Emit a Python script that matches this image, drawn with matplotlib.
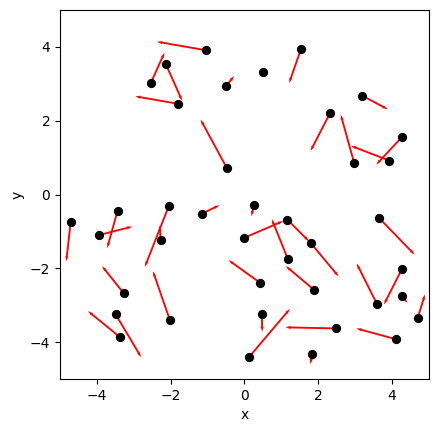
import numpy as np
import matplotlib
matplotlib.use("Agg")
import matplotlib.pyplot as plt

# point positions
x = [-1.05, -2.13, -1.81, -2.54, -0.50, -0.48, 0.50, 1.53, 3.19, 2.32,
     2.97, 3.92, 4.27, -4.71, -3.95, -3.44, -2.05, -2.27, -1.16, -3.27,
     -3.49, -3.37, -2.02, 0.42, 0.25, 0.00, 1.16, 1.79, 1.18, 1.88,
     3.64, 4.27, 3.59, 4.27, 4.69, 0.47, 0.12, 2.48, 4.10, 1.82]
y = [3.91, 3.53, 2.46, 3.02, 2.94, 0.72, 3.32, 3.94, 2.68, 2.21,
     0.86, 0.92, 1.56, -0.74, -1.10, -0.44, -0.31, -1.22, -0.52, -2.68,
     -3.25, -3.87, -3.41, -2.39, -0.28, -1.17, -0.68, -1.31, -1.76, -2.58,
     -0.63, -2.01, -2.97, -2.76, -3.36, -3.23, -4.41, -3.63, -3.92, -4.33]
# arrow components
u = [-1.32, 0.44, -1.15, 0.37, 0.22, -0.71, 0.14, -0.32, 0.69, -0.53,
     -0.36, -1.04, -0.70, -0.12, 0.91, -0.28, -0.65, -0.03, 0.48, -0.59,
     0.69, -0.87, -0.46, -0.85, -0.06, 1.05, 0.59, 0.76, -0.44, -0.76,
     0.97, -0.49, -0.55, 0.15, 0.20, 0.01, 1.11, -1.37, -1.07, -0.03]
v = [0.23, -0.99, 0.20, 0.82, 0.27, 1.31, -0.02, -0.92, -0.37, -1.03,
     1.30, 0.40, -0.75, -1.07, 0.23, -1.01, -1.65, 0.38, 0.23, 0.74,
     -1.16, 0.71, 1.33, 0.61, -0.31, 0.45, -0.59, -0.91, 1.09, 0.64,
     -1.00, -0.97, 1.10, -0.18, 0.65, -0.49, 1.31, 0.03, 0.29, -0.27]

fig = plt.figure(figsize=(4.39, 4.32), dpi=100)
ax = fig.add_axes([60/439, 53/432, 369/439, 369/432])

ax.quiver(x, y, u, v, angles='xy', scale_units='xy', scale=1, color='red',
          width=0.005, headwidth=1.8, headlength=3, headaxislength=2.7, zorder=2)
ax.scatter(x, y, s=32, color='black', zorder=3)

ax.set_xlim(-5, 5)
ax.set_ylim(-5, 5)
ax.set_xticks([-4, -2, 0, 2, 4])
ax.set_yticks([-4, -2, 0, 2, 4])
ax.set_xlabel('x')
ax.set_ylabel('y')

fig.savefig('out.png', dpi=100)
